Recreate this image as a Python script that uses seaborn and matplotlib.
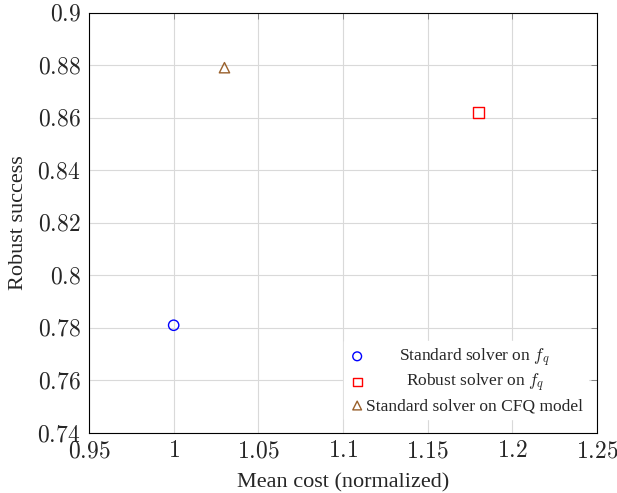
import matplotlib
matplotlib.use("Agg")
import matplotlib.pyplot as plt
import matplotlib.ticker as mticker
import seaborn as sns
import pandas as pd

methods = ["Standard solver on $f_q$", "Robust solver on $f_q$", "Standard solver on CFQ model"]
mean_cost = [1.00, 1.18, 1.03]
robust_success = [0.781, 0.862, 0.879]
colors = ["#0000ff", "#ff0000", "#99602b"]
markers = ["o", "s", "^"]

df = pd.DataFrame({"method": methods, "cost": mean_cost, "success": robust_success})

sns.set_style("white")
plt.rcParams["font.family"] = ["Liberation Serif", "DejaVu Serif"]
plt.rcParams["mathtext.fontset"] = "cm"

fig = plt.figure(figsize=(6.17, 4.93), dpi=100)
ax = fig.add_axes([89 / 617, 1 - 433 / 493, (597 - 89) / 617, (433 - 12.5) / 493])

for (_, row), c, m in zip(df.iterrows(), colors, markers):
    sns.scatterplot(x=[row["cost"]], y=[row["success"]], ax=ax, marker=m, s=55,
                    facecolor="none", edgecolor=c, linewidth=1.0, label=row["method"],
                    zorder=3)

ax.set_xlim(0.95, 1.25)
ax.set_ylim(0.74, 0.90)
ax.xaxis.set_major_locator(mticker.MultipleLocator(0.05))
ax.yaxis.set_major_locator(mticker.MultipleLocator(0.02))

def fmt(v, pos):
    s = f"{v:.2f}".rstrip("0").rstrip(".")
    return f"${s}$"

ax.xaxis.set_major_formatter(mticker.FuncFormatter(fmt))
ax.yaxis.set_major_formatter(mticker.FuncFormatter(fmt))
ax.grid(True, color="#d9d9d9", linewidth=0.8)
ax.set_axisbelow(True)
for sp in ax.spines.values():
    sp.set_color("black")
    sp.set_linewidth(0.8)
ax.tick_params(direction="in", length=4, width=0.6, color="#777777",
               top=True, right=True, labelsize=17, pad=6)
ax.set_xlabel("Mean cost (normalized)", fontsize=16, labelpad=8)
ax.set_ylabel("Robust success", fontsize=16, labelpad=7)

leg = ax.legend(loc="lower right", bbox_to_anchor=(1.0, 0.012), frameon=True,
                fontsize=12.5, handletextpad=0.05, borderpad=0.3, labelspacing=0.2,
                handlelength=0.93, markerscale=0.85)
leg.set_zorder(2.4)
frame = leg.get_frame()
frame.set_edgecolor("white")
frame.set_facecolor("white")
frame.set_alpha(1)
frame.set_boxstyle("square", pad=0)

# center each legend label within the widest label's width
fig.canvas.draw()
renderer = fig.canvas.get_renderer()
texts = leg.get_texts()
widths = [t.get_window_extent(renderer).width for t in texts]
wmax = max(widths)
for t, w in zip(texts, widths):
    t.set_position(((wmax - w) / 2, 0))

fig.savefig("out.png", dpi=100)
